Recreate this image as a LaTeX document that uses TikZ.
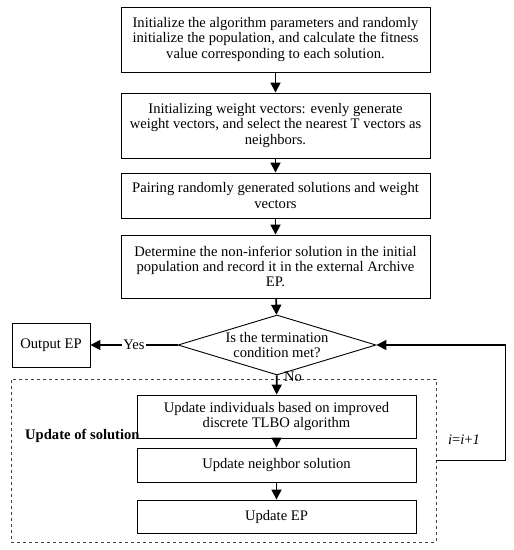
\documentclass[tikz,border=0pt]{standalone}
\usepackage{fontspec}
\setmainfont{Liberation Serif}
\usetikzlibrary{arrows.meta,shapes.geometric}

\begin{document}
\begin{tikzpicture}[x=1pt, y=-1pt, font=\fontsize{14.6}{15.2}\selectfont,
    box/.style={draw, line width=0.9pt, align=center, inner sep=0pt, minimum width=309pt},
    sub/.style={draw, line width=0.9pt, align=center, inner sep=0pt, minimum width=279pt},
    arr/.style={line width=1.7pt, -{Triangle[length=10pt, width=10pt]}}]
    \useasboundingbox (0,0) rectangle (514,550);
    % initial steps
    \node[box, minimum height=65pt] (S1) at (275.5, 39.5) {Initialize the algorithm parameters and randomly\\initialize the population, and calculate the fitness\\value corresponding to each solution.};
    \node[box, minimum height=65pt] (S2) at (275.5, 125.5) {Initializing weight vectors: evenly generate\\weight vectors, and select the nearest T vectors as\\neighbors.};
    \node[box, minimum height=45pt] (S3) at (275.5, 195.5) {Pairing randomly generated solutions and weight\\vectors};
    \node[box, minimum height=63pt] (S4) at (275.5, 266.5) {Determine the non-inferior solution in the initial\\population and record it in the external Archive\\EP.};
    % decision
    \node[draw, line width=0.9pt, diamond, aspect=3.6, inner sep=0pt, minimum width=198pt, minimum height=60pt, align=center] (D) at (277, 345) {Is the termination\\condition met?};
    \node[draw, line width=0.9pt, minimum width=78pt, minimum height=44pt, inner sep=0pt] (Out) at (51, 345) {Output EP};
    % update loop
    \node[draw, dashed, black!75, line width=0.9pt, minimum width=425pt, minimum height=163pt] (G) at (223.5, 460.5) {};
    \node[sub, minimum height=43pt] (U1) at (276.5, 416.5) {Update individuals based on improved\\discrete TLBO algorithm};
    \node[sub, minimum height=34pt] (U2) at (276.5, 465) {Update neighbor solution};
    \node[sub, minimum height=33pt] (U3) at (276.5, 516.5) {Update EP};
    \node[anchor=west, font=\fontsize{14.6}{15.2}\selectfont\bfseries, inner sep=0pt] (GL) at (25, 436) {Update of solution};
    \foreach \a/\b in {S1/S2, S2/S3, S3/S4, S4/D, D/U1, U1/U2, U2/U3} {
        \draw[arr] (\a) -- (\b);
    }
    \draw[arr] (D.west) -- node[fill=white, inner sep=1pt] {Yes} (Out.east);
    \node[anchor=west, inner sep=0pt] (No) at (284, 377) {No};
    \draw[arr] (G.east) -- ++(69, 0) coordinate (C) |- (D.east);
    \node (L) at (464, 440) {\textit{i}=\textit{i}+\textit{1}};
\end{tikzpicture}
\end{document}
